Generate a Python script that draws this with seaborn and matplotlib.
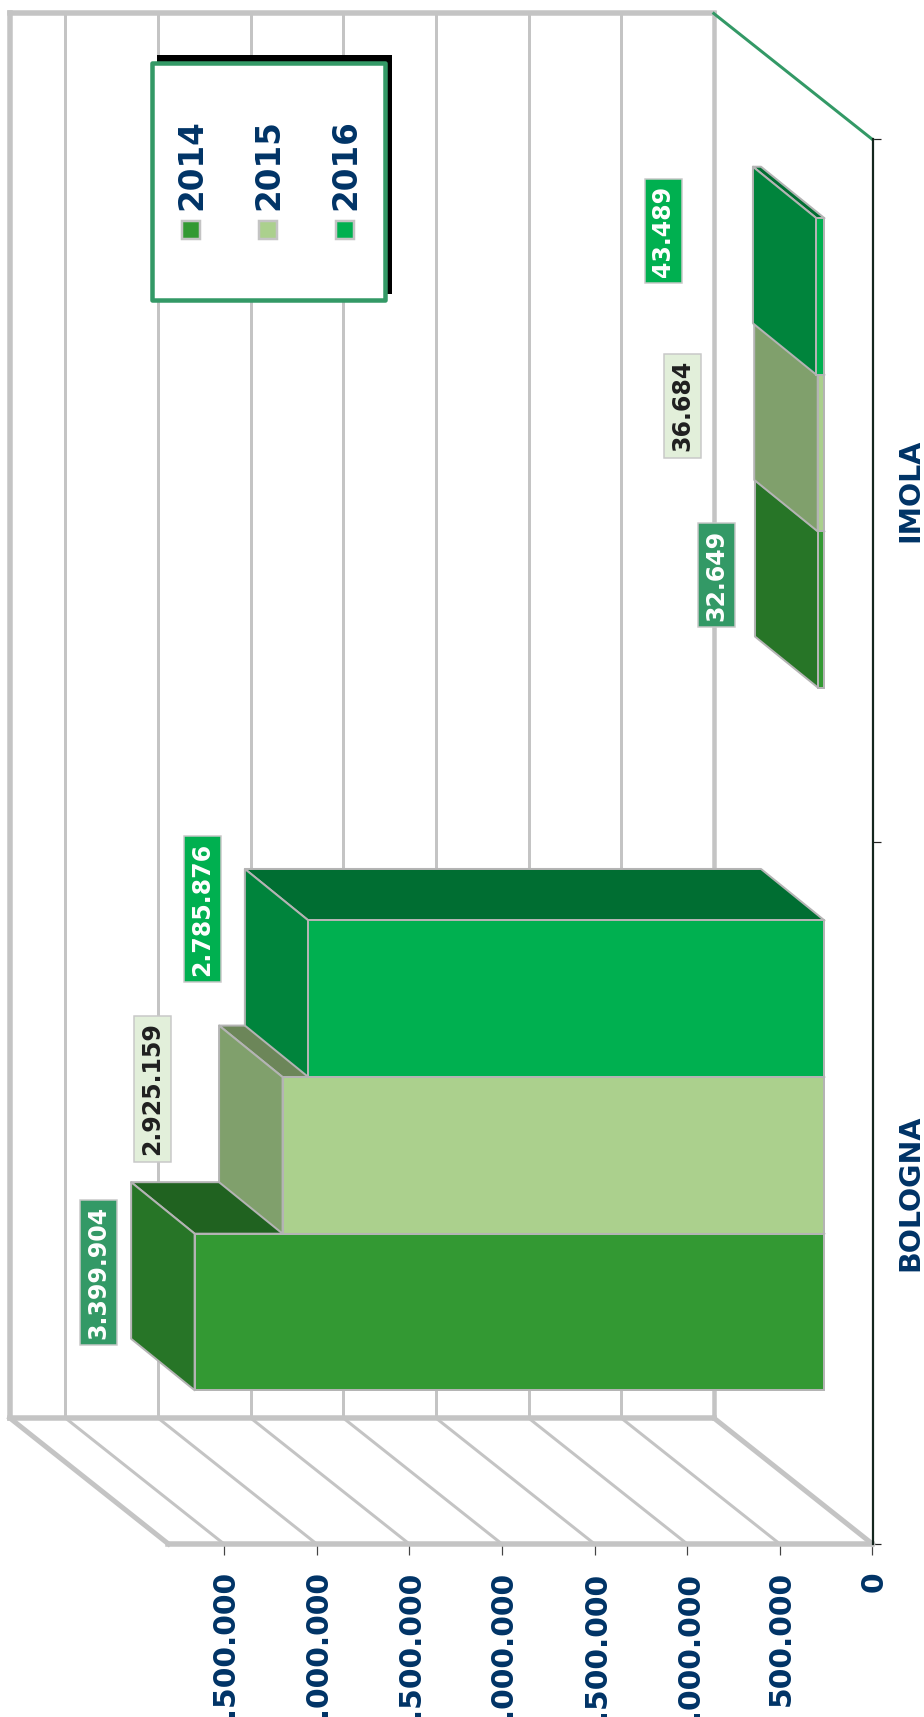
import pandas as pd
import matplotlib
matplotlib.use("Agg")
import matplotlib.pyplot as plt
import seaborn as sns
from matplotlib.lines import Line2D
from matplotlib.patches import Polygon, Rectangle
from matplotlib.transforms import Affine2D, IdentityTransform

cities = ["BOLOGNA", "IMOLA"]
years = ["2014", "2015", "2016"]
values_2014 = [3399904, 32649]
values_2015 = [2925159, 36684]
values_2016 = [2785876, 43489]
value_ticks = [0, 500000, 1000000, 1500000, 2000000, 2500000, 3000000, 3500000]
value_max = 3800000

# colori: faccia frontale, fine barra, lato
front_colors = ["#339933", "#ABD08D", "#00B050"]
end_colors = ["#277527", "#80A06C", "#00843C"]
side_colors = ["#206220", "#6C8659", "#006E32"]
label_bg = ["#339966", "#E2EFDA", "#00B050"]
label_fg = ["white", "#1F1F1F", "white"]
# spostamento delle etichette rispetto alla fine della barra (pixel)
label_offsets = {
    "2014": [(-144, 77), (-150, 72)],
    "2015": [(-178, 104), (-183, 85)],
    "2016": [(-154, 127), (-201, 103)],
}

NAVY = "#003366"
GRID = "#C4C4C4"
EDGE = "#B4B4B4"
W, H = 924, 1717
px = 0.72  # un pixel in punti a dpi=100

# profondita della scena in pixel (y verso l'alto)
WALL = (-158.7, 126.0)
BAR_BASE = (-48.0, 37.5)
BAR_DEPTH = (-63.5, 51.5)


def fmt(v):
    return f"{v:,}".replace(",", ".")


sns.set_theme(style="white")
plt.rcParams["font.family"] = ["DejaVu Sans"]

df = pd.DataFrame({
    "city": cities * 3,
    "year": [y for y in years for _ in cities],
    "value": values_2014 + values_2015 + values_2016,
})

fig = plt.figure(figsize=(W / 100, H / 100), dpi=100, facecolor="white")
left, right, top, bottom = 168.5, 872.5, 139.5, 1544.0
ax = fig.add_axes([left / W, 1 - bottom / H, (right - left) / W, (bottom - top) / H])
ax.patch.set_alpha(0)

sns.barplot(data=df, x="value", y="city", hue="year", order=cities, hue_order=years,
            palette=dict(zip(years, front_colors)), orient="h", width=0.669, gap=0,
            saturation=1, legend=False, edgecolor=EDGE, linewidth=2 * px, ax=ax)

ax.set_xlim(value_max, 0)
ax.set_ylim(-0.5, 1.5)
ax.set_xlabel("")
ax.set_ylabel("")


def to_px(v, c, shift=(0, 0)):
    x, y = ax.transData.transform((v, c))
    return x + shift[0], y + shift[1]


def add_line(p0, p1, color=GRID, lw=3, z=1):
    ax.add_artist(Line2D([p0[0], p1[0]], [p0[1], p1[1]], color=color, lw=lw * px, zorder=z,
                         transform=IdentityTransform(), clip_on=False, solid_capstyle="projecting"))


# pareti e griglia
for t in value_ticks[1:]:
    add_line(to_px(t, -0.5, WALL), to_px(t, 1.5, WALL))
    add_line(to_px(t, -0.5), to_px(t, -0.5, WALL))
add_line(to_px(0, 1.5, WALL), to_px(0, -0.5, WALL), lw=4.5)
add_line(to_px(value_max, 1.5, WALL), to_px(value_max, -0.5, WALL), lw=5.5)
add_line(to_px(value_max, 1.5, WALL), to_px(0, 1.5, WALL), lw=5.5)
add_line(to_px(value_max, -0.5, WALL), to_px(0, -0.5, WALL), lw=5.5)
add_line(to_px(value_max, -0.5, WALL), to_px(value_max, -0.5), lw=5)
add_line(to_px(0, -0.5, WALL), to_px(0, -0.5), lw=5)
add_line(to_px(value_max, -0.5), to_px(0, -0.5), lw=5.5)
add_line(to_px(0, 1.5, WALL), to_px(0, 1.5), color="#339966", lw=3)

# barre 3D: ogni barra di seaborn viene spostata e completata con le due facce
base_tr = ax.transData + Affine2D().translate(*BAR_BASE)
for i, cont in enumerate(ax.containers):
    for bar in cont:
        z = 3 + i
        bar.set_transform(base_tr)
        bar.set_clip_on(False)
        bar.set_zorder(z + 0.2)
        x1 = bar.get_x() + bar.get_width()
        y0, y1 = bar.get_y(), bar.get_y() + bar.get_height()
        a = to_px(x1, y0, BAR_BASE)
        b = to_px(x1, y1, BAR_BASE)
        c = to_px(0, y1, BAR_BASE)
        dx, dy = BAR_DEPTH
        side = [b, (b[0] + dx, b[1] + dy), (c[0] + dx, c[1] + dy), c]
        end = [a, b, (b[0] + dx, b[1] + dy), (a[0] + dx, a[1] + dy)]
        for pts, col in ((side, side_colors[i]), (end, end_colors[i])):
            ax.add_artist(Polygon(pts, closed=True, facecolor=col, edgecolor=EDGE, lw=2 * px,
                                  zorder=z, transform=IdentityTransform(), clip_on=False,
                                  joinstyle="round"))

# etichette dei valori
for i, (year, vals) in enumerate(zip(years, [values_2014, values_2015, values_2016])):
    for bar, v, off in zip(ax.containers[i], vals, label_offsets[year]):
        ax.annotate(fmt(v), xy=(v, bar.get_y() + bar.get_height() / 2), xytext=off,
                    textcoords="offset pixels", rotation=90, ha="center", va="center",
                    rotation_mode="anchor", fontsize=17, fontweight="bold", color=label_fg[i],
                    zorder=10, annotation_clip=False,
                    bbox=dict(boxstyle="square,pad=0.27", facecolor=label_bg[i],
                              edgecolor="#C8C8C8", lw=1.5 * px))

# assi
for name in ["top", "left", "bottom"]:
    ax.spines[name].set_visible(False)
ax.spines["right"].set_visible(True)
ax.spines["right"].set_color("#14261E")
ax.spines["right"].set_linewidth(2.2 * px)
ax.set_xticks(value_ticks, [fmt(t) for t in value_ticks])
ax.tick_params(axis="x", bottom=True, length=11 * px, width=1.2 * px, color="#444444", pad=16 * px,
               labelsize=21.5, labelcolor=NAVY, labelrotation=90)
for lab in ax.get_xticklabels():
    lab.set_fontweight("bold")
    lab.set_transform(lab.get_transform() + Affine2D().translate(1.5, 0))
ax.yaxis.tick_right()
ax.set_yticks([0, 1], cities)
ax.set_yticks([-0.5, 0.5, 1.5], minor=True)
ax.tick_params(axis="y", which="major", length=0, pad=23.5 * px, labelsize=20.5, labelcolor=NAVY,
               labelrotation=90)
ax.tick_params(axis="y", which="minor", right=True, length=8 * px, width=1.2 * px, color="#222222")
for lab in ax.get_yticklabels():
    lab.set_fontweight("bold")
    lab.set_verticalalignment("center")


# legenda disegnata a mano, ruotata come il grafico
def fx(x):
    return x / W


def fy(y):
    return 1 - y / H


box_x0, box_x1, box_y0, box_y1 = 152, 385, 63, 300
fig.add_artist(Rectangle((fx(box_x0 + 6), fy(box_y1 - 7)), fx(box_x1 - box_x0), (box_y1 - box_y0) / H,
                         facecolor="black", edgecolor="black", lw=2 * px,
                         transform=fig.transFigure, zorder=5))
fig.add_artist(Rectangle((fx(box_x0), fy(box_y1)), fx(box_x1 - box_x0), (box_y1 - box_y0) / H,
                         facecolor="white", edgecolor="#339966", lw=4.5 * px, joinstyle="round",
                         transform=fig.transFigure, zorder=6))
for year, col, cx in zip(years, front_colors, [191.5, 268.5, 345.5]):
    fig.add_artist(Rectangle((fx(cx - 9.5), fy(239)), fx(18), 18 / H, facecolor=col, edgecolor=GRID,
                             lw=2.5 * px, transform=fig.transFigure, zorder=7))
    fig.text(fx(cx), fy(210), year, rotation=90, ha="center", va="bottom", fontsize=23.5,
             fontweight="bold", color=NAVY, zorder=7)

fig.savefig("out.png", dpi=100, facecolor="white")
